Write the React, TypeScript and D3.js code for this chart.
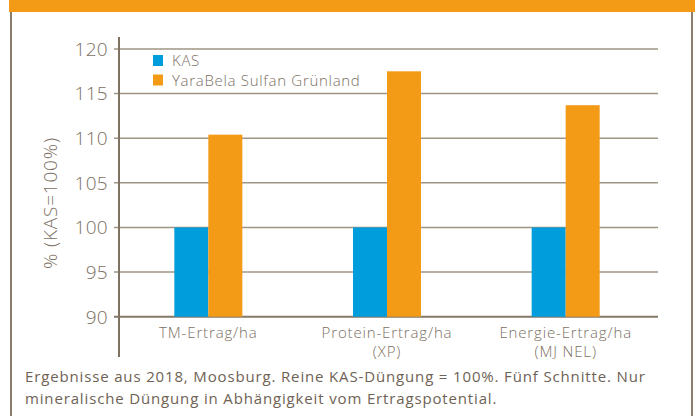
import * as d3 from "d3"
import { useEffect, useRef } from "react"

const categories = ["TM-Ertrag/ha", "Protein-Ertrag/ha", "Energie-Ertrag/ha"]
const categorySubLabels = ["", "(XP)", "(MJ NEL)"]
const seriesNames = ["KAS", "YaraBela Sulfan Grünland"]
const kasValues = [100, 100, 100]
const sulfanValues = [110.4, 117.5, 113.7]
const yTicks = [90, 95, 100, 105, 110, 115, 120]
const yAxisTitle = "% (KAS=100%)"
const footnoteLines = [
  "Ergebnisse aus 2018, Moosburg. Reine KAS-Düngung = 100%. Fünf Schnitte. Nur",
  "mineralische Düngung in Abhängigkeit vom Ertragspotential.",
]

const WIDTH = 695
const HEIGHT = 416
const COLORS = ["#009ddc", "#f39a17"]
const TEXT = "#7b6f63"
const FRAME = "#8b7e6d"
const GRID = "#a09585"
const FONT = "'Open Sans', 'DejaVu Sans', sans-serif"

const App = () => {
  const svgRef = useRef<SVGSVGElement>(null)

  useEffect(() => {
    if (!svgRef.current) return
    const svg = d3.select(svgRef.current)
    svg.selectAll("*").remove()

    const MARGIN = { top: 49, bottom: 316.7, left: 119, right: 658 }

    const xScale = d3
      .scaleBand<string>()
      .domain(categories)
      .range([MARGIN.left, 655])
      .padding(0)
    const groupWidth = 68
    const xInner = d3
      .scaleBand<string>()
      .domain(seriesNames)
      .range([-groupWidth / 2, groupWidth / 2])

    const yScale = d3
      .scaleLinear()
      .domain([90, 120])
      .range([MARGIN.bottom, MARGIN.top])

    // header band + frame
    svg
      .append("rect")
      .attr("x", 9)
      .attr("y", 0)
      .attr("width", WIDTH - 9)
      .attr("height", 12)
      .attr("fill", "#f39a17")
    svg
      .selectAll("line.frame")
      .data([11, 692])
      .join("line")
      .attr("class", "frame")
      .attr("x1", (d) => d)
      .attr("x2", (d) => d)
      .attr("y1", 12)
      .attr("y2", HEIGHT)
      .attr("stroke", FRAME)
      .attr("stroke-width", 2)

    // gridlines
    svg
      .selectAll("line.grid")
      .data(yTicks)
      .join("line")
      .attr("class", "grid")
      .attr("x1", MARGIN.left - 5)
      .attr("x2", MARGIN.right)
      .attr("y1", (d) => yScale(d))
      .attr("y2", (d) => yScale(d))
      .attr("stroke", (d) => (d === 90 ? "#85796a" : GRID))
      .attr("stroke-width", (d) => (d === 90 ? 2 : 1.5))

    // bars
    const seriesData = [kasValues, sulfanValues]
    seriesNames.forEach((name, si) => {
      svg
        .append("g")
        .selectAll("rect")
        .data(seriesData[si])
        .join("rect")
        .attr(
          "x",
          (_d, i) =>
            (xScale(categories[i]) ?? 0) +
            xScale.bandwidth() / 2 +
            (xInner(name) ?? 0),
        )
        .attr("y", (d) => yScale(d))
        .attr("width", xInner.bandwidth())
        .attr("height", (d) => yScale(90) - yScale(d))
        .attr("fill", COLORS[si])
    })

    // y axis line
    svg
      .append("line")
      .attr("x1", MARGIN.left)
      .attr("x2", MARGIN.left)
      .attr("y1", 37)
      .attr("y2", 357)
      .attr("stroke", "#7f7262")
      .attr("stroke-width", 2)

    // tick labels
    svg
      .selectAll("text.ytick")
      .data(yTicks)
      .join("text")
      .attr("class", "ytick")
      .attr("x", 108)
      .attr("y", (d) => yScale(d))
      .attr("dy", "0.36em")
      .attr("text-anchor", "end")
      .attr("font-family", FONT)
      .attr("font-weight", 300)
      .attr("font-size", "19px")
      .attr("letter-spacing", "0.3px")
      .attr("fill", TEXT)
      .text((d) => d)

    svg
      .append("text")
      .attr("transform", "translate(57, 203) rotate(-90)")
      .attr("text-anchor", "middle")
      .attr("font-family", FONT)
      .attr("font-weight", 300)
      .attr("font-size", "19px")
      .attr("letter-spacing", "0.8px")
      .attr("fill", TEXT)
      .text(yAxisTitle)

    // category labels
    categories.forEach((c, i) => {
      const cx = (xScale(c) ?? 0) + xScale.bandwidth() / 2
      const t = svg
        .append("text")
        .attr("text-anchor", "middle")
        .attr("font-family", FONT)
        .attr("font-weight", 300)
        .attr("font-size", "15px")
        .attr("letter-spacing", "0.85px")
        .attr("fill", TEXT)
      t.append("tspan").attr("x", cx).attr("y", 338).text(c)
      if (categorySubLabels[i])
        t.append("tspan").attr("x", cx).attr("y", 357).text(categorySubLabels[i])
    })

    // legend
    const legend = svg
      .append("g")
      .selectAll("g")
      .data(seriesNames)
      .join("g")
      .attr("transform", (_d, i) => `translate(153, ${55 + i * 19.5})`)
    legend
      .append("rect")
      .attr("width", 10)
      .attr("height", 11)
      .attr("fill", (_d, i) => COLORS[i])
    legend
      .append("text")
      .attr("x", 19)
      .attr("y", 11)
      .attr("font-family", FONT)
      .attr("font-weight", 300)
      .attr("font-size", "15px")
      .attr("letter-spacing", "0.7px")
      .attr("fill", TEXT)
      .text((d) => d)

    // footnote
    svg
      .selectAll("text.foot")
      .data(footnoteLines)
      .join("text")
      .attr("class", "foot")
      .attr("x", 25)
      .attr("y", (_d, i) => 382 + i * 21.5)
      .attr("font-family", FONT)
      .attr("font-size", "15px")
      .attr("letter-spacing", "0.85px")
      .attr("fill", "#6e6254")
      .text((d) => d)
  }, [])

  return (
    <svg
      ref={svgRef}
      width={WIDTH}
      height={HEIGHT}
      style={{ position: "absolute", left: 0, top: 0, background: "#fff" }}
    />
  )
}

export default App
